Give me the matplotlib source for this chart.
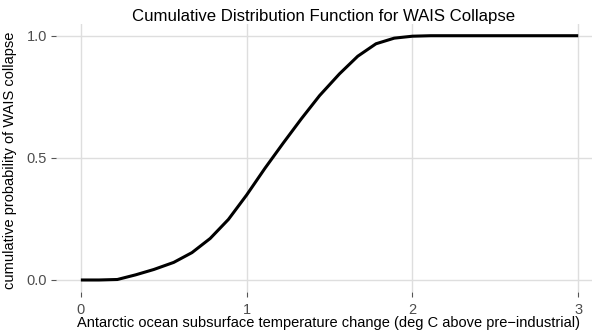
import numpy as np
import matplotlib
matplotlib.use("Agg")
import matplotlib.pyplot as plt

plt.rcParams['font.family'] = ['Liberation Sans', 'DejaVu Sans']

# temperature grid (deg C) and CDF values
temp_change = [0.0, 0.11, 0.22, 0.33, 0.44, 0.56, 0.67, 0.78, 0.89, 1.0,
               1.11, 1.22, 1.33, 1.44, 1.56, 1.67, 1.78, 1.89, 2.0,
               2.11, 2.22, 2.33, 2.44, 2.56, 2.67, 2.78, 2.89, 3.0]
cum_prob = [0.0, 0.0, 0.002, 0.021, 0.043, 0.072, 0.112, 0.17, 0.248, 0.348,
            0.457, 0.56, 0.66, 0.755, 0.844, 0.916, 0.967, 0.99, 0.998,
            1.0, 1.0, 1.0, 1.0, 1.0, 1.0, 1.0, 1.0, 1.0]
x_ticks = [0, 1, 2, 3]
y_ticks = [0.0, 0.5, 1.0]
y_ticklabels = ["0.0", "0.5", "1.0"]

W, H = 593, 332
fig = plt.figure(figsize=(W / 100, H / 100), dpi=100)

# panel in pixels: left 56, right 592, top 23.5, bottom 292.2
left, right, top, bottom = 56, 592, 23.5, 292.2
ax = fig.add_axes([left / W, (H - bottom) / H, (right - left) / W, (bottom - top) / H])

ax.plot(temp_change, cum_prob, color='black', linewidth=2.2, solid_capstyle='butt')

ax.set_xlim(-0.15, 3.083)
ax.set_ylim(-0.05, 1.05)
ax.set_xticks(x_ticks)
ax.set_yticks(y_ticks)
ax.set_yticklabels(y_ticklabels)

ax.grid(True, color='#DEDEDE', linewidth=1.0)
ax.set_axisbelow(True)
for s in ax.spines.values():
    s.set_visible(False)

ax.tick_params(axis='both', length=3.6, width=0.8, color='#555555',
               labelcolor='#4D4D4D', labelsize=10.5)
ax.tick_params(axis='x', pad=4.2)
ax.tick_params(axis='y', pad=2.8)

fig.text(324 / W, (H - 20.7) / H, "Cumulative Distribution Function for WAIS Collapse",
         fontsize=12.1, ha='center', va='baseline')
fig.text(328.5 / W, (H - 327) / H,
         "Antarctic ocean subsurface temperature change (deg C above pre\u2212industrial)",
         fontsize=10.5, ha='center', va='baseline')
fig.text(10 / W, (H - 160) / H, "cumulative probability of WAIS collapse",
         fontsize=10.5, rotation=90, ha='center', va='center')

fig.savefig("out.png", dpi=100)
